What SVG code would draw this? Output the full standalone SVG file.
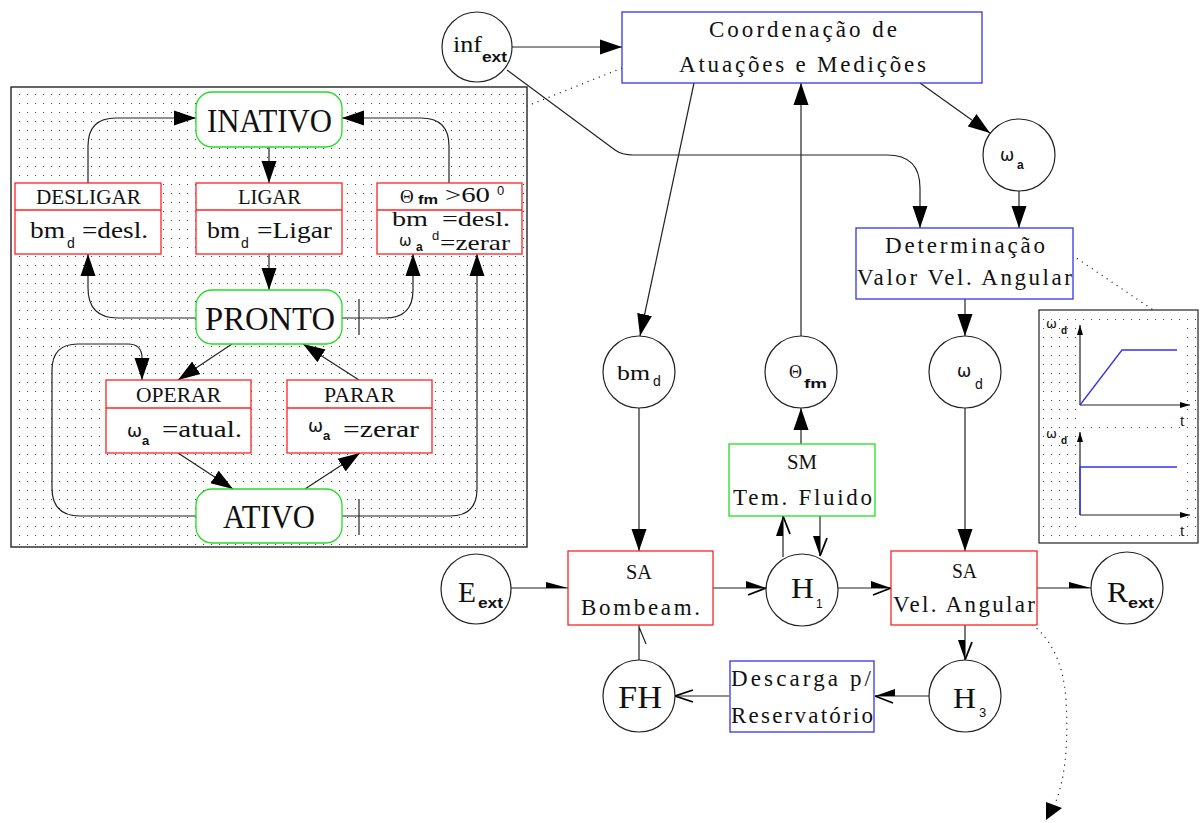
<svg xmlns="http://www.w3.org/2000/svg" width="1203" height="823" viewBox="0 0 1203 823">
<style>
  .ln { fill: none; stroke: #222; stroke-width: 1.2; }
  .dot { fill: none; stroke: #000; stroke-width: 1.2; stroke-dasharray: 1 5; }
  .circ { fill: #fff; stroke: #222; stroke-width: 1.2; }
  .red { fill: #fff; stroke: #f22; stroke-width: 1.3; }
  .blu { fill: #fff; stroke: #33e; stroke-width: 1.3; }
  .st { fill: #fff; stroke: #2d2; stroke-width: 1.3; }
  .t { font-family: "Liberation Serif", serif; fill: #111; }
  .s { font-family: "Liberation Sans", sans-serif; fill: #111; }
  .b { font-family: "Liberation Sans", sans-serif; font-weight: bold; fill: #111; }
  .g { font-family: "DejaVu Sans", sans-serif; fill: #111; }
</style>
<defs>
  <pattern id="dots" width="8" height="9" patternUnits="userSpaceOnUse">
    <rect x="3" y="4" width="1" height="1" fill="#444"/>
  </pattern>
  <marker id="tri" markerUnits="userSpaceOnUse" markerWidth="22" markerHeight="16" viewBox="0 0 22 16" refX="22" refY="8" orient="auto">
    <path d="M0,0.5 L22,8 L0,15.5 z" fill="#000"/>
  </marker>
  <!-- harpoon heads: filled wedge on one side, single barb on the other -->
  <marker id="harpA" markerUnits="userSpaceOnUse" markerWidth="24" markerHeight="16" viewBox="0 0 24 16" refX="22" refY="8" orient="auto">
    <path d="M2,1 L22,8 L2,8 z" fill="#000"/>
    <path d="M22,8 L4,15" stroke="#000" stroke-width="1.8" fill="none"/>
  </marker>
  <marker id="harpB" markerUnits="userSpaceOnUse" markerWidth="24" markerHeight="16" viewBox="0 0 24 16" refX="22" refY="8" orient="auto">
    <path d="M2,15 L22,8 L2,8 z" fill="#000"/>
    <path d="M22,8 L4,1" stroke="#000" stroke-width="1.8" fill="none"/>
  </marker>
  <marker id="wedge" markerUnits="userSpaceOnUse" markerWidth="24" markerHeight="16" viewBox="0 0 24 16" refX="22" refY="8" orient="auto">
    <path d="M0,2 L22,8 L0,8 z" fill="#000"/>
  </marker>
  <marker id="open" markerUnits="userSpaceOnUse" markerWidth="24" markerHeight="16" viewBox="0 0 24 16" refX="22" refY="8" orient="auto">
    <path d="M4,2 L22,8 L4,14" stroke="#000" stroke-width="1.8" fill="none"/>
  </marker>
  <marker id="small" markerUnits="userSpaceOnUse" markerWidth="10" markerHeight="8" viewBox="0 0 10 8" refX="10" refY="4" orient="auto">
    <path d="M0,1 L10,4 L0,7 z" fill="#000"/>
  </marker>
</defs>

<rect width="1203" height="823" fill="#fff"/>

<!-- state machine panel -->
<g id="panel">
  <rect x="11" y="87" width="516" height="460" fill="#fff" stroke="#333" stroke-width="1.5"/>
  <rect x="12" y="88" width="514" height="458" fill="url(#dots)"/>
</g>

<!-- connectors -->
<g id="connectors">
  <!-- panel -->
  <path class="ln" d="M269,147 V183" marker-end="url(#tri)"/>
  <path class="ln" d="M269,254 V290" marker-end="url(#tri)"/>
  <path class="ln" d="M88,183 V146 Q88,118 116,118 H196" marker-end="url(#tri)"/>
  <path class="ln" d="M449,183 V146 Q449,118 421,118 H342" marker-end="url(#tri)"/>
  <path class="ln" d="M196,318 H118 Q88,318 88,288 V254" marker-end="url(#tri)"/>
  <path class="ln" d="M342,318 H385 Q413,318 413,290 V254" marker-end="url(#tri)"/>
  <path class="ln" d="M359,299 V335"/>
  <path class="ln" d="M232,344 L178,380" marker-end="url(#tri)"/>
  <path class="ln" d="M359,380 L303,344" marker-end="url(#tri)"/>
  <path class="ln" d="M178,453 L233,489" marker-end="url(#tri)"/>
  <path class="ln" d="M305,489 L360,453" marker-end="url(#tri)"/>
  <path class="ln" d="M196,516 H80 Q52,516 52,488 V370 Q52,344 78,344 H128 Q142,344 142,358 V380" marker-end="url(#tri)"/>
  <path class="ln" d="M342,516 H450 Q477,516 477,489 V254" marker-end="url(#tri)"/>
  <path class="ln" d="M359,499 V535"/>

  <!-- coordination layer -->
  <path class="ln" d="M511,47 H622" marker-end="url(#tri)"/>
  <path class="ln" d="M507,70 L615,150 Q622,155 633,155 H887 Q920,155 920,188 V228" marker-end="url(#tri)"/>
  <path class="ln" d="M694,83 L640,336" marker-end="url(#tri)"/>
  <path class="ln" d="M801,336 V83" marker-end="url(#tri)"/>
  <path class="ln" d="M920,83 L990,133" marker-end="url(#tri)"/>
  <path class="ln" d="M1019,191 V228" marker-end="url(#tri)"/>
  <path class="ln" d="M965,299 V336" marker-end="url(#tri)"/>
  <path class="ln" d="M965,408 V551" marker-end="url(#tri)"/>
  <path class="ln" d="M639,408 V551" marker-end="url(#tri)"/>
  <path class="ln" d="M801,444 V408" marker-end="url(#tri)"/>

  <!-- physical layer -->
  <path class="ln" d="M783,557 V516" marker-end="url(#harpA)"/>
  <path class="ln" d="M820,516 V556" marker-end="url(#harpB)"/>
  <path class="ln" d="M511,588 H568" marker-end="url(#wedge)"/>
  <path class="ln" d="M713,588 H766" marker-end="url(#harpA)"/>
  <path class="ln" d="M838,588 H891" marker-end="url(#harpA)"/>
  <path class="ln" d="M1037,588 H1091" marker-end="url(#wedge)"/>
  <path class="ln" d="M965,625 V660" marker-end="url(#harpB)"/>
  <path class="ln" d="M929,696 H875" marker-end="url(#harpB)"/>
  <path class="ln" d="M729,696 H675" marker-end="url(#open)"/>
  <path class="ln" d="M639,660 V625 M639,627 L646,644"/>

  <!-- dotted leaders -->
  <path class="dot" d="M622,68 L527,106"/>
  <path class="dot" d="M1057,245 L1162,316"/>
  <path class="dot" d="M1022,618 Q1062,640 1066,700 Q1070,770 1054,806"/>
  <path d="M1046,820 L1046,802 L1062,808 z" fill="#000"/>
</g>

<!-- panel states and actions -->
<g id="inativo">
  <rect class="st" x="196" y="92" width="146" height="55" rx="16"/>
  <text class="t" x="207" y="132" font-size="34" textLength="125" lengthAdjust="spacingAndGlyphs">INATIVO</text>
</g>
<g id="pronto">
  <rect class="st" x="196" y="290" width="146" height="54" rx="16"/>
  <text class="t" x="205" y="330" font-size="34" textLength="130" lengthAdjust="spacingAndGlyphs">PRONTO</text>
</g>
<g id="ativo">
  <rect class="st" x="196" y="489" width="146" height="54" rx="16"/>
  <text class="t" x="223" y="528" font-size="34" textLength="92" lengthAdjust="spacingAndGlyphs">ATIVO</text>
</g>
<g id="desligar">
  <rect class="red" x="15" y="183" width="146" height="71"/>
  <line x1="15" y1="210" x2="161" y2="210" stroke="#f22" stroke-width="1.3"/>
  <text class="t" x="36" y="204" font-size="22" textLength="105" lengthAdjust="spacingAndGlyphs">DESLIGAR</text>
  <text class="t" x="30" y="238" font-size="24" textLength="35" lengthAdjust="spacingAndGlyphs">bm</text>
  <text class="s" x="67" y="248" font-size="14">d</text>
  <text class="t" x="82" y="238" font-size="24" textLength="66" lengthAdjust="spacingAndGlyphs">=desl.</text>
</g>
<g id="ligar">
  <rect class="red" x="196" y="183" width="146" height="71"/>
  <line x1="196" y1="210" x2="342" y2="210" stroke="#f22" stroke-width="1.3"/>
  <text class="t" x="238" y="204" font-size="22" textLength="63" lengthAdjust="spacingAndGlyphs">LIGAR</text>
  <text class="t" x="207" y="238" font-size="24" textLength="33" lengthAdjust="spacingAndGlyphs">bm</text>
  <text class="s" x="241" y="248" font-size="14">d</text>
  <text class="t" x="257" y="238" font-size="24" textLength="75" lengthAdjust="spacingAndGlyphs">=Ligar</text>
</g>
<g id="temp-limite">
  <rect class="red" x="377" y="183" width="145" height="71"/>
  <line x1="377" y1="210" x2="522" y2="210" stroke="#f22" stroke-width="1.3"/>
  <text class="t" x="400" y="203" font-size="19">Θ</text>
  <text class="b" x="418" y="204" font-size="12" textLength="20" lengthAdjust="spacingAndGlyphs">fm</text>
  <text class="t" x="445" y="202" font-size="21" textLength="45" lengthAdjust="spacingAndGlyphs">&gt;60</text>
  <text class="s" x="497" y="195" font-size="13">0</text>
  <text class="t" x="392" y="226" font-size="21" textLength="36" lengthAdjust="spacingAndGlyphs">bm</text>
  <text class="s" x="432" y="240" font-size="13">d</text>
  <text class="t" x="442" y="226" font-size="21" textLength="68" lengthAdjust="spacingAndGlyphs">=desl.</text>
  <text class="g" x="399" y="246" font-size="15">ω</text>
  <text class="b" x="416" y="251" font-size="12">a</text>
  <text class="t" x="440" y="250" font-size="22" textLength="70" lengthAdjust="spacingAndGlyphs">=zerar</text>
</g>
<g id="operar">
  <rect class="red" x="106" y="380" width="145" height="73"/>
  <line x1="106" y1="408" x2="251" y2="408" stroke="#f22" stroke-width="1.3"/>
  <text class="t" x="136" y="402" font-size="22" textLength="85" lengthAdjust="spacingAndGlyphs">OPERAR</text>
  <text class="g" x="127" y="437" font-size="18">ω</text>
  <text class="b" x="142" y="445" font-size="13">a</text>
  <text class="t" x="162" y="437" font-size="23" textLength="80" lengthAdjust="spacingAndGlyphs">=atual.</text>
</g>
<g id="parar">
  <rect class="red" x="287" y="380" width="145" height="73"/>
  <line x1="287" y1="408" x2="432" y2="408" stroke="#f22" stroke-width="1.3"/>
  <text class="t" x="324" y="402" font-size="22" textLength="71" lengthAdjust="spacingAndGlyphs">PARAR</text>
  <text class="g" x="308" y="432" font-size="18">ω</text>
  <text class="b" x="323" y="440" font-size="13">a</text>
  <text class="t" x="343" y="437" font-size="23" textLength="76" lengthAdjust="spacingAndGlyphs">=zerar</text>
</g>

<!-- coordination layer -->
<g id="inf-ext">
  <circle class="circ" cx="477" cy="47" r="35"/>
  <text class="t" x="453" y="52" font-size="24" textLength="29" lengthAdjust="spacingAndGlyphs">inf</text>
  <text class="b" x="482" y="62" font-size="14" textLength="25" lengthAdjust="spacingAndGlyphs">ext</text>
</g>
<g id="coordenacao">
  <rect class="blu" x="622" y="12" width="360" height="71"/>
  <text class="t" x="709" y="37" font-size="23" textLength="188" lengthAdjust="spacing">Coordenação de</text>
  <text class="t" x="679" y="72" font-size="23" textLength="247" lengthAdjust="spacing">Atuações e Medições</text>
</g>
<g id="omega-a">
  <circle class="circ" cx="1019" cy="155" r="36"/>
  <text class="g" x="1000" y="161" font-size="17">ω</text>
  <text class="b" x="1017" y="169" font-size="12">a</text>
</g>
<g id="determinacao">
  <rect class="blu" x="856" y="228" width="217" height="71"/>
  <text class="t" x="885" y="253" font-size="23" textLength="160" lengthAdjust="spacing">Determinação</text>
  <text class="t" x="857" y="285" font-size="23" textLength="215" lengthAdjust="spacing">Valor Vel. Angular</text>
</g>
<g id="omega-d">
  <circle class="circ" cx="965" cy="372" r="36"/>
  <text class="g" x="957" y="377" font-size="17">ω</text>
  <text class="s" x="975" y="389" font-size="14">d</text>
</g>
<g id="bm-d">
  <circle class="circ" cx="639" cy="372" r="36"/>
  <text class="t" x="617" y="380" font-size="22" textLength="33" lengthAdjust="spacingAndGlyphs">bm</text>
  <text class="s" x="653" y="386" font-size="14">d</text>
</g>
<g id="theta-fm">
  <circle class="circ" cx="801" cy="372" r="36"/>
  <text class="t" x="789" y="378" font-size="18">Θ</text>
  <text class="b" x="804" y="388" font-size="13" textLength="23" lengthAdjust="spacingAndGlyphs">fm</text>
</g>

<!-- reference profile inset -->
<g id="perfil">
  <rect x="1039" y="310" width="159" height="233" fill="#fff" stroke="#222" stroke-width="1.2"/>
  <rect x="1040" y="311" width="157" height="231" fill="url(#dots)"/>
  <rect x="1078" y="326" width="106" height="98" fill="#fff"/>
  <rect x="1078" y="436" width="106" height="98" fill="#fff"/>
  <path class="ln" d="M1080,405 V325" marker-end="url(#small)"/>
  <path class="ln" d="M1080,405 H1190" marker-end="url(#small)"/>
  <path d="M1080,405 L1122,350 H1177" fill="none" stroke="#33e" stroke-width="1.3"/>
  <path class="ln" d="M1080,515 V432" marker-end="url(#small)"/>
  <path class="ln" d="M1080,515 H1190" marker-end="url(#small)"/>
  <path d="M1080,515 V467 H1177" fill="none" stroke="#33e" stroke-width="1.3"/>
  <text class="g" x="1046" y="328" font-size="13">ω</text>
  <text class="b" x="1061" y="334" font-size="10">d</text>
  <text class="t" x="1180" y="426" font-size="16">t</text>
  <text class="g" x="1046" y="438" font-size="13">ω</text>
  <text class="b" x="1061" y="444" font-size="10">d</text>
  <text class="t" x="1180" y="536" font-size="16">t</text>
</g>

<!-- physical layer -->
<g id="sm-fluido">
  <rect class="st" x="729" y="444" width="146" height="72"/>
  <text class="t" x="787" y="469" font-size="20" textLength="30" lengthAdjust="spacingAndGlyphs">SM</text>
  <text class="t" x="733" y="505" font-size="23" textLength="139" lengthAdjust="spacing">Tem. Fluido</text>
</g>
<g id="e-ext">
  <circle class="circ" cx="476" cy="589" r="35"/>
  <text class="t" x="458" y="602" font-size="30" textLength="18" lengthAdjust="spacingAndGlyphs">E</text>
  <text class="b" x="478" y="608" font-size="14" textLength="25" lengthAdjust="spacingAndGlyphs">ext</text>
</g>
<g id="sa-bombeam">
  <rect class="red" x="568" y="551" width="145" height="74"/>
  <text class="t" x="626" y="579" font-size="20" textLength="26" lengthAdjust="spacingAndGlyphs">SA</text>
  <text class="t" x="581" y="615" font-size="23" textLength="119" lengthAdjust="spacing">Bombeam.</text>
</g>
<g id="h1">
  <circle class="circ" cx="802" cy="590" r="36"/>
  <text class="t" x="791" y="598" font-size="30" textLength="23" lengthAdjust="spacingAndGlyphs">H</text>
  <text class="s" x="816" y="608" font-size="12">1</text>
</g>
<g id="sa-vel">
  <rect class="red" x="891" y="551" width="146" height="74"/>
  <text class="t" x="952" y="578" font-size="20" textLength="25" lengthAdjust="spacingAndGlyphs">SA</text>
  <text class="t" x="893" y="612" font-size="23" textLength="142" lengthAdjust="spacing">Vel. Angular</text>
</g>
<g id="r-ext">
  <circle class="circ" cx="1127" cy="588" r="36"/>
  <text class="t" x="1107" y="602" font-size="30" textLength="21" lengthAdjust="spacingAndGlyphs">R</text>
  <text class="b" x="1128" y="608" font-size="14" textLength="26" lengthAdjust="spacingAndGlyphs">ext</text>
</g>
<g id="h3">
  <circle class="circ" cx="965" cy="696" r="36"/>
  <text class="t" x="953" y="708" font-size="30" textLength="23" lengthAdjust="spacingAndGlyphs">H</text>
  <text class="s" x="979" y="717" font-size="13">3</text>
</g>
<g id="descarga">
  <rect class="blu" x="730" y="661" width="144" height="71"/>
  <text class="t" x="731" y="686" font-size="23" textLength="140" lengthAdjust="spacing">Descarga p/</text>
  <text class="t" x="731" y="723" font-size="23" textLength="142" lengthAdjust="spacing">Reservatório</text>
</g>
<g id="fh">
  <circle class="circ" cx="639" cy="696" r="36"/>
  <text class="t" x="618" y="708" font-size="32" textLength="44" lengthAdjust="spacingAndGlyphs">FH</text>
</g>
</svg>
